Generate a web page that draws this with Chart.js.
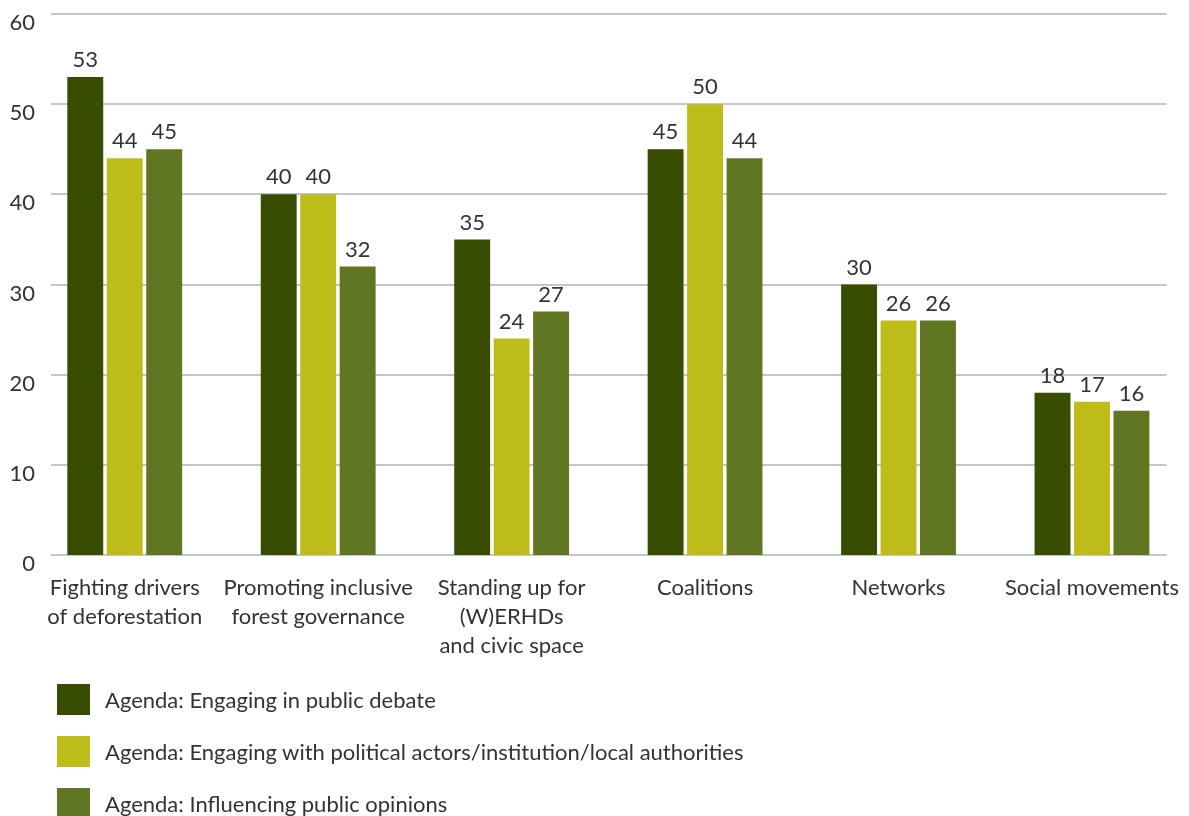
<!DOCTYPE html>
<html>
<head>
<meta charset="utf-8">
<script src="https://cdn.jsdelivr.net/npm/chart.js@4.4.1/dist/chart.umd.min.js"></script>
<style>
  html, body { margin: 0; padding: 0; background: #fff; }
  #wrap { position: relative; width: 1189px; height: 816px; overflow: hidden; }
  #legend { position: absolute; left: 57px; top: 684px; font-family: Lato, sans-serif; font-size: 22px; color: #333; }
  .item { display: flex; align-items: center; height: 31px; margin-bottom: 21px; }
  .box { width: 33px; height: 31px; margin-right: 15px; }
</style>
</head>
<body>
<div id="wrap">
  <canvas id="chart" width="1189" height="816"></canvas>
  <div id="legend"></div>
</div>
<script>
const categories = [
  ['Fighting drivers', 'of deforestation'],
  ['Promoting inclusive', 'forest governance'],
  ['Standing up for', '(W)ERHDs', 'and civic space'],
  'Coalitions',
  'Networks',
  'Social movements'
];
const publicDebate = [53, 40, 35, 45, 30, 18];
const politicalActors = [44, 40, 24, 50, 26, 17];
const publicOpinions = [45, 32, 27, 44, 26, 16];
const yTicks = [0, 10, 20, 30, 40, 50, 60];

const FONT = 'Lato, sans-serif';
const TEXT = '#333';
const GRID = '#c6c6c6';

// horizontal grid, drawn a little inset from the category band
const gridLines = {
  id: 'gridLines',
  beforeDatasetsDraw(chart) {
    const { ctx, chartArea, scales: { y } } = chart;
    ctx.save();
    ctx.strokeStyle = GRID;
    ctx.lineWidth = 2;
    yTicks.forEach(v => {
      const py = Math.round(y.getPixelForValue(v));
      ctx.beginPath();
      ctx.moveTo(chartArea.left + 23, py);
      ctx.lineTo(chartArea.right - 22, py);
      ctx.stroke();
    });
    ctx.restore();
  },
  // y labels sit just under their grid line, overlapping the plot edge
  afterDraw(chart) {
    const { ctx, chartArea, scales: { y } } = chart;
    ctx.save();
    ctx.font = '22px ' + FONT;
    ctx.fillStyle = TEXT;
    ctx.textAlign = 'right';
    ctx.textBaseline = 'middle';
    yTicks.forEach(v => {
      ctx.fillText(String(v), chartArea.left + 7, y.getPixelForValue(v) + 9);
    });
    ctx.restore();
  }
};

// value above each bar
const barValues = {
  id: 'barValues',
  afterDatasetsDraw(chart) {
    const { ctx } = chart;
    ctx.save();
    ctx.font = '22px ' + FONT;
    ctx.fillStyle = TEXT;
    ctx.textAlign = 'center';
    ctx.textBaseline = 'bottom';
    chart.data.datasets.forEach((ds, i) => {
      chart.getDatasetMeta(i).data.forEach((bar, j) => {
        ctx.fillText(ds.data[j], bar.x, bar.y - 6);
      });
    });
    ctx.restore();
  }
};

const chart = new Chart(document.getElementById('chart'), {
  type: 'bar',
  data: {
    labels: categories,
    datasets: [
      { label: 'Agenda: Engaging in public debate', data: publicDebate, backgroundColor: '#384d02' },
      { label: 'Agenda: Engaging with political actors/institution/local authorities', data: politicalActors, backgroundColor: '#bebc19' },
      { label: 'Agenda: Influencing public opinions', data: publicOpinions, backgroundColor: '#607622' }
    ]
  },
  options: {
    responsive: false,
    animation: false,
    layout: { padding: { top: 14, left: 8, right: 0, bottom: 0 } },
    datasets: { bar: { categoryPercentage: 0.612, barPercentage: 0.91 } },
    plugins: { legend: { display: false }, tooltip: { enabled: false } },
    scales: {
      x: {
        grid: { display: false },
        border: { display: false },
        ticks: {
          font: { family: FONT, size: 22, lineHeight: 1.32 },
          color: TEXT,
          padding: 10,
          maxRotation: 0,
          autoSkip: false
        },
        afterFit: s => { s.height = 261; }
      },
      y: {
        min: 0,
        max: 60,
        grid: { display: false },
        border: { display: false },
        afterBuildTicks: s => { s.ticks = yTicks.map(v => ({ value: v })); },
        ticks: { display: false },
        afterFit: s => { s.width = 20; }
      }
    }
  },
  plugins: [gridLines, barValues]
});

// legend built from the datasets
document.getElementById('legend').innerHTML = chart.data.datasets.map(d =>
  `<div class="item"><span class="box" style="background:${d.backgroundColor}"></span>${d.label}</div>`
).join('');
</script>
</body>
</html>
